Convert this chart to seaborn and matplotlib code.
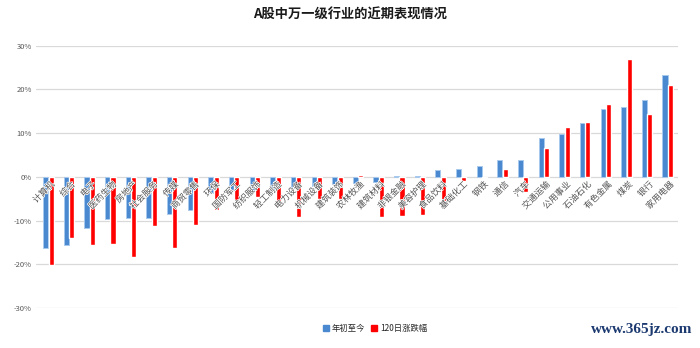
import matplotlib
matplotlib.use("Agg")
import matplotlib.pyplot as plt
import matplotlib.ticker as mticker
import matplotlib.patheffects as pe
import matplotlib.transforms as mtransforms
import seaborn as sns
import pandas as pd

# Shenwan level-1 industries, sorted by year-to-date return
industries = ['计算机', '综合', '电子', '医药生物', '房地产', '社会服务', '传媒', '商贸零售',
              '环保', '国防军工', '纺织服饰', '轻工制造', '电力设备', '机械设备', '建筑装饰',
              '农林牧渔', '建筑材料', '非银金融', '美容护理', '食品饮料', '基础化工', '钢铁',
              '通信', '汽车', '交通运输', '公用事业', '石油石化', '有色金属', '煤炭', '银行',
              '家用电器']
ytd = [-16.2, -15.5, -11.6, -9.6, -9.5, -9.4, -8.5, -7.5,
       -3.6, -3.2, -2.9, -2.8, -2.6, -2.1, -1.6,
       -1.4, -1.1, 0.2, 0.3, 1.6, 1.7, 2.4,
       3.8, 3.9, 8.8, 9.7, 12.3, 15.6, 15.9, 17.5,
       23.2]
chg_120d = [-20.2, -13.9, -15.5, -15.3, -18.3, -11.2, -16.2, -11.0,
            -7.5, -5.9, -4.6, -7.0, -9.1, -5.0, -5.0,
            0.4, -9.1, -9.0, -8.8, -5.5, -1.0, -0.3,
            1.9, -3.4, 6.6, 11.3, 12.5, 16.6, 26.9, 14.4,
            21.0]
series_names = ['年初至今', '120日涨跌幅']
y_ticks = [-30, -20, -10, 0, 10, 20, 30]

df = pd.DataFrame({
    '行业': industries * 2,
    '系列': [series_names[0]] * len(industries) + [series_names[1]] * len(industries),
    '涨跌幅': ytd + chg_120d,
})

sns.set_style("white")
plt.rcParams['font.family'] = ['Noto Sans CJK SC', 'DejaVu Sans']
plt.rcParams['axes.unicode_minus'] = False

fig = plt.figure(figsize=(7.0, 3.48), dpi=100)
ax = fig.add_axes([36 / 700, 1 - 308 / 348, (678 - 36) / 700, (308 - 45.7) / 348])

colors = {series_names[0]: '#4a89d0', series_names[1]: '#ff0000'}
sns.barplot(data=df, x='行业', y='涨跌幅', hue='系列', order=industries,
            hue_order=series_names, palette=colors, width=0.52, gap=0.06,
            ax=ax, legend=False, saturation=1, zorder=2)

for bar in ax.patches[:len(industries)]:
    bar.set_edgecolor('#a8c9ee')
    bar.set_linewidth(0.7)

ax.set_ylim(-30, 30)
ax.set_xlim(-0.6, 30.5)
ax.set_yticks(y_ticks)
ax.yaxis.set_major_formatter(mticker.FuncFormatter(lambda v, p: f'{v:.0f}%'))
for t in y_ticks:
    ax.axhline(t, color='#d9d9d9', linewidth=0.9, zorder=0)
for side in ['left', 'right', 'top', 'bottom']:
    ax.spines[side].set_visible(False)

ax.tick_params(axis='y', length=0, labelsize=5.5, labelcolor='#595959', pad=3)
ax.set_xticks([])
ax.set_xlabel('')
ax.set_ylabel('')

# category names sit on the zero line, drawn over the bars
offset = mtransforms.ScaledTranslation(1.5 / 100, -3 / 100, fig.dpi_scale_trans)
for i, name in enumerate(industries):
    ax.text(i, 0, name, rotation=45, ha='right', va='top', rotation_mode='anchor',
            fontsize=6.3, color='#505050', zorder=5,
            transform=ax.transData + offset,
            path_effects=[pe.withStroke(linewidth=1.0, foreground='white')])

fig.text(0.5, 1 - 15 / 348, 'A股中万一级行业的近期表现情况', ha='center', va='center',
         fontsize=9.5, fontweight='bold', color='#1a1a1a')

# legend at the bottom
handles = [plt.Rectangle((0, 0), 1, 1, color=colors[s]) for s in series_names]
fig.legend(handles, series_names, loc='center', bbox_to_anchor=(375 / 700, 1 - 328 / 348),
           ncol=2, frameon=False, fontsize=6, handlelength=0.7, handleheight=0.7,
           handletextpad=0.3, columnspacing=0.8)

fig.text(692 / 700, 1 - 330 / 348, 'www.365jz.com', ha='right', va='center',
         fontsize=11, fontweight='bold', color='#1c3a70', family='Liberation Serif')

fig.savefig('out.png', dpi=100)
